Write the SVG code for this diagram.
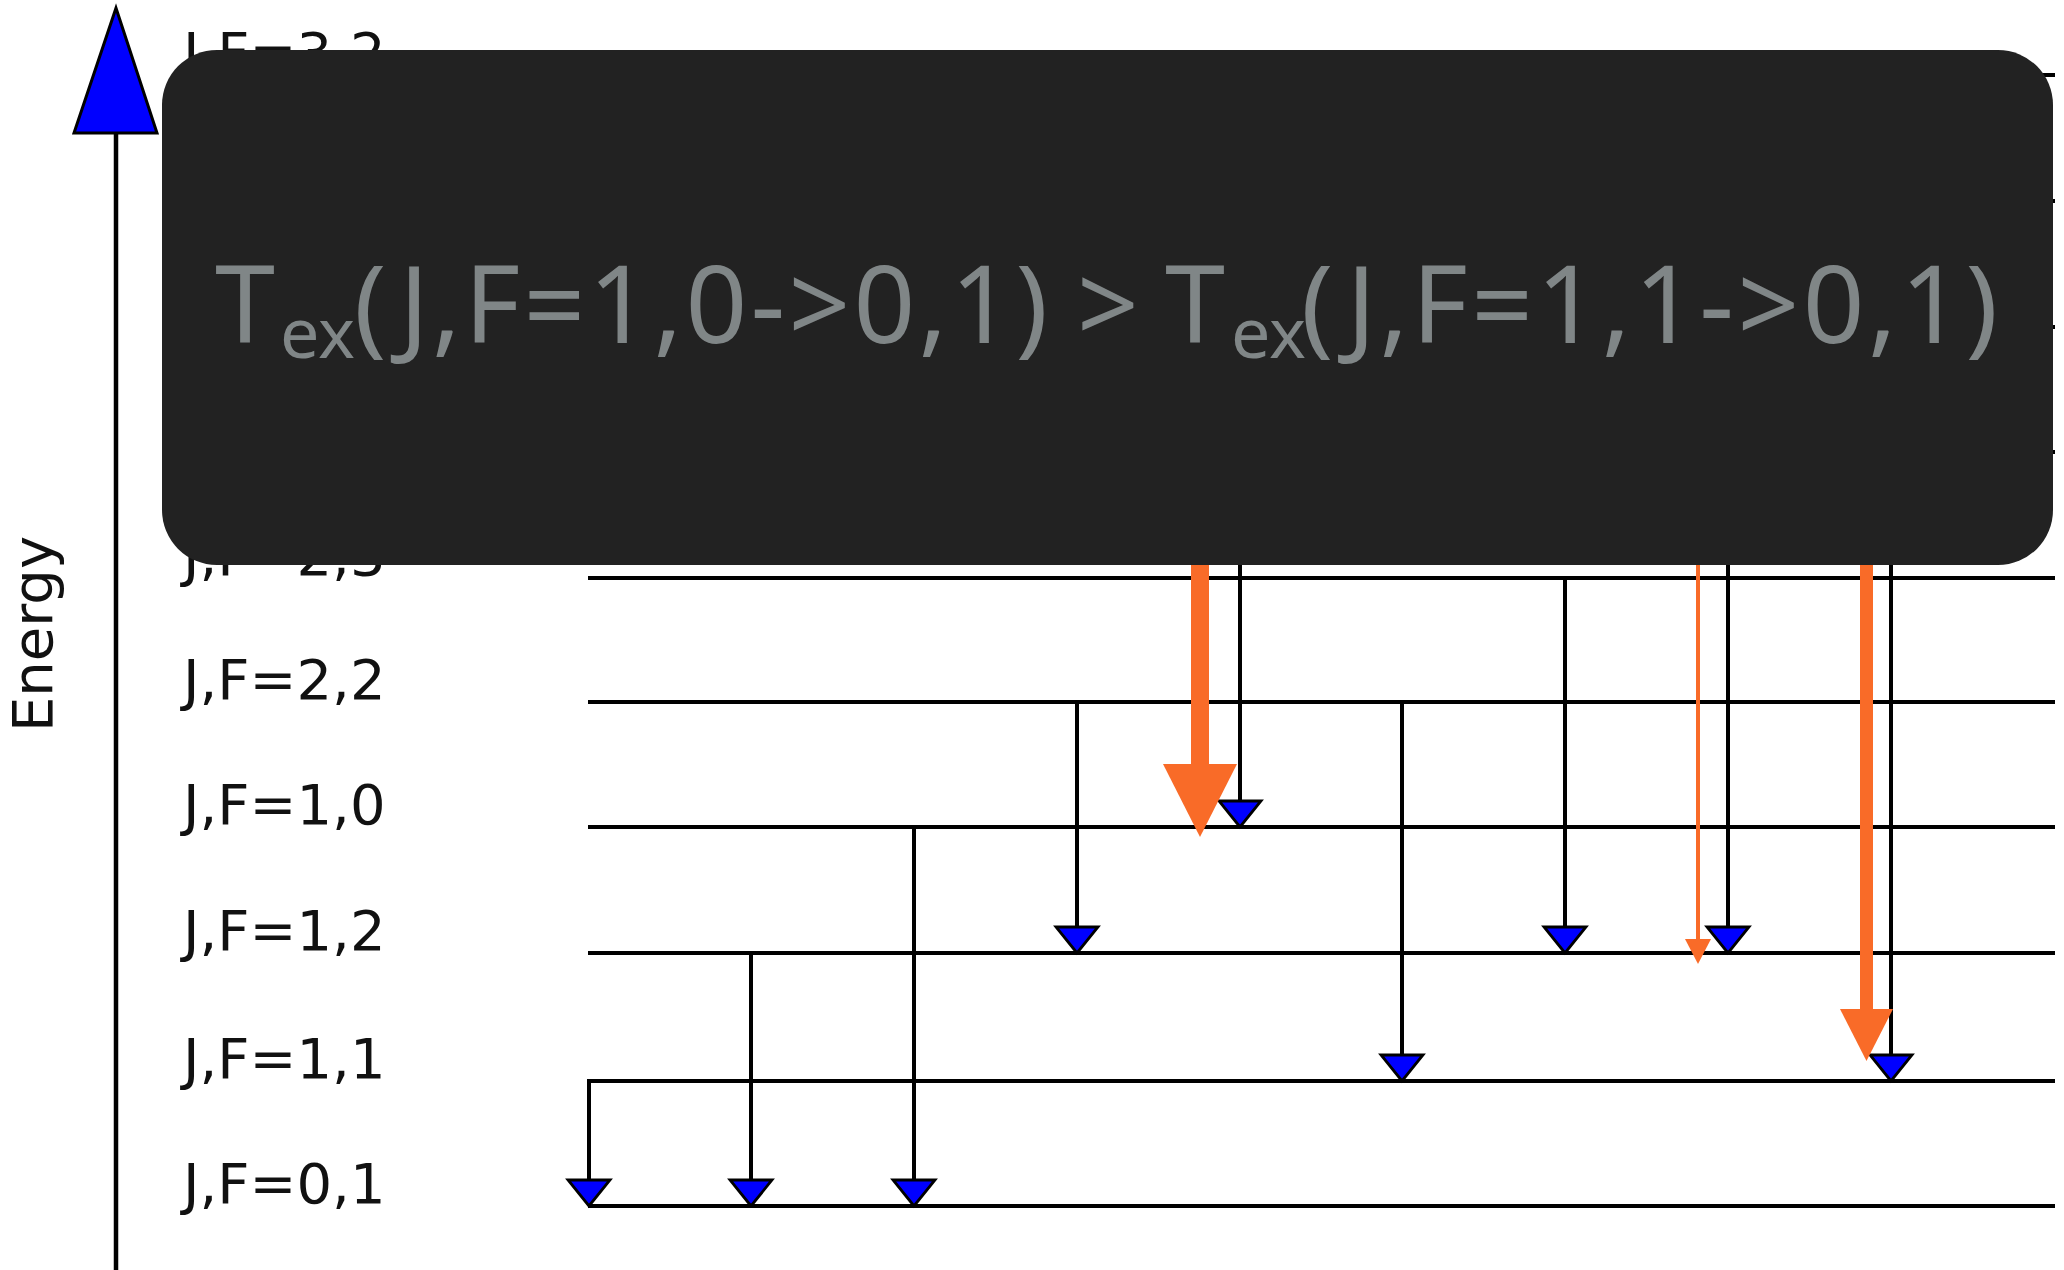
<svg xmlns="http://www.w3.org/2000/svg" width="2064" height="1270" viewBox="0 0 2064 1270">
<style>
.lvl{stroke:#000;stroke-width:4;fill:none}
.tr{stroke:#000;stroke-width:4;fill:none}
.hd{fill:#0000ff;stroke:#000;stroke-width:2.8;stroke-linejoin:miter}
.lab{font-family:"DejaVu Sans",sans-serif;font-size:56px;fill:#111}
.or{fill:#f96b28}
.title{font-family:"Noto Sans","Open Sans",sans-serif;font-size:108px;fill:#808687}
.sub{font-family:"Noto Sans","Open Sans",sans-serif;font-size:70px;fill:#808687}
</style>
<rect width="2064" height="1270" fill="#fff"/>
<g id="axis">
<line x1="116" y1="130" x2="116" y2="1270" stroke="#000" stroke-width="4.5"/>
<polygon points="116,8 74,133 157,133" fill="#0000ff" stroke="#000" stroke-width="3" stroke-linejoin="miter"/>
<text class="lab" transform="translate(52,634) rotate(-90)" text-anchor="middle">Energy</text>
</g>
<g id="levels">
<g id="lvl-3-2"><line class="lvl" x1="588" y1="75" x2="2055" y2="75"/><text class="lab" x="183" y="72">J,F=3,2</text></g>
<g id="lvl-3-b"><line class="lvl" x1="588" y1="201" x2="2055" y2="201"/></g>
<g id="lvl-3-a"><line class="lvl" x1="588" y1="327" x2="2055" y2="327"/></g>
<g id="lvl-2-1"><line class="lvl" x1="588" y1="452" x2="2055" y2="452"/></g>
<g id="lvl-2-3"><line class="lvl" x1="588" y1="578" x2="2055" y2="578"/><text class="lab" x="183" y="575">J,F=2,3</text></g>
<g id="lvl-2-2"><line class="lvl" x1="588" y1="702" x2="2055" y2="702"/><text class="lab" x="183" y="699">J,F=2,2</text></g>
<g id="lvl-1-0"><line class="lvl" x1="588" y1="827" x2="2055" y2="827"/><text class="lab" x="183" y="824">J,F=1,0</text></g>
<g id="lvl-1-2"><line class="lvl" x1="588" y1="953" x2="2055" y2="953"/><text class="lab" x="183" y="950">J,F=1,2</text></g>
<g id="lvl-1-1"><line class="lvl" x1="588" y1="1081" x2="2055" y2="1081"/><text class="lab" x="183" y="1078">J,F=1,1</text></g>
<g id="lvl-0-1"><line class="lvl" x1="588" y1="1206" x2="2055" y2="1206"/><text class="lab" x="183" y="1203">J,F=0,1</text></g>
</g>
<g id="connectors">
<g id="t1"><line class="tr" x1="589" y1="1079" x2="589" y2="1180"/><polygon class="hd" points="568,1180 610,1180 589,1206"/></g>
<g id="t2"><line class="tr" x1="751" y1="953" x2="751" y2="1180"/><polygon class="hd" points="730,1180 772,1180 751,1206"/></g>
<g id="t3"><line class="tr" x1="914" y1="827" x2="914" y2="1180"/><polygon class="hd" points="893,1180 935,1180 914,1206"/></g>
<g id="t4"><line class="tr" x1="1077" y1="702" x2="1077" y2="927"/><polygon class="hd" points="1056,927 1098,927 1077,953"/></g>
<g id="t5"><line class="tr" x1="1240" y1="452" x2="1240" y2="801"/><polygon class="hd" points="1219,801 1261,801 1240,827"/></g>
<g id="t6"><line class="tr" x1="1402" y1="702" x2="1402" y2="1055"/><polygon class="hd" points="1381,1055 1423,1055 1402,1081"/></g>
<g id="t7"><line class="tr" x1="1565" y1="578" x2="1565" y2="927"/><polygon class="hd" points="1544,927 1586,927 1565,953"/></g>
<g id="t8"><line class="tr" x1="1728" y1="452" x2="1728" y2="927"/><polygon class="hd" points="1707,927 1749,927 1728,953"/></g>
<g id="t9"><line class="tr" x1="1891" y1="452" x2="1891" y2="1055"/><polygon class="hd" points="1870,1055 1912,1055 1891,1081"/></g>
<g id="o1"><rect class="or" x="1191" y="500" width="18" height="266"/><polygon class="or" points="1163,764 1237,764 1200,837"/></g>
<g id="o2"><rect class="or" x="1696" y="500" width="4" height="441"/><polygon class="or" points="1685,939 1711,939 1698,964"/></g>
<g id="o3"><rect class="or" x="1860" y="500" width="13" height="511"/><polygon class="or" points="1840,1009 1893,1009 1866.5,1061"/></g>
</g>
<g id="banner">
<rect x="162" y="50" width="1891" height="515" rx="55" ry="55" fill="#222"/>
<text class="title" x="215" y="343">T</text>
<text class="sub" x="280" y="358">ex</text>
<text class="title" x="354" y="343" textLength="694" lengthAdjust="spacing">(J,F=1,0-&gt;0,1)</text>
<text class="title" x="1077" y="343">&gt;</text>
<text class="title" x="1165" y="343">T</text>
<text class="sub" x="1231" y="358">ex</text>
<text class="title" x="1301" y="343" textLength="697" lengthAdjust="spacing">(J,F=1,1-&gt;0,1)</text>
</g>
</svg>
